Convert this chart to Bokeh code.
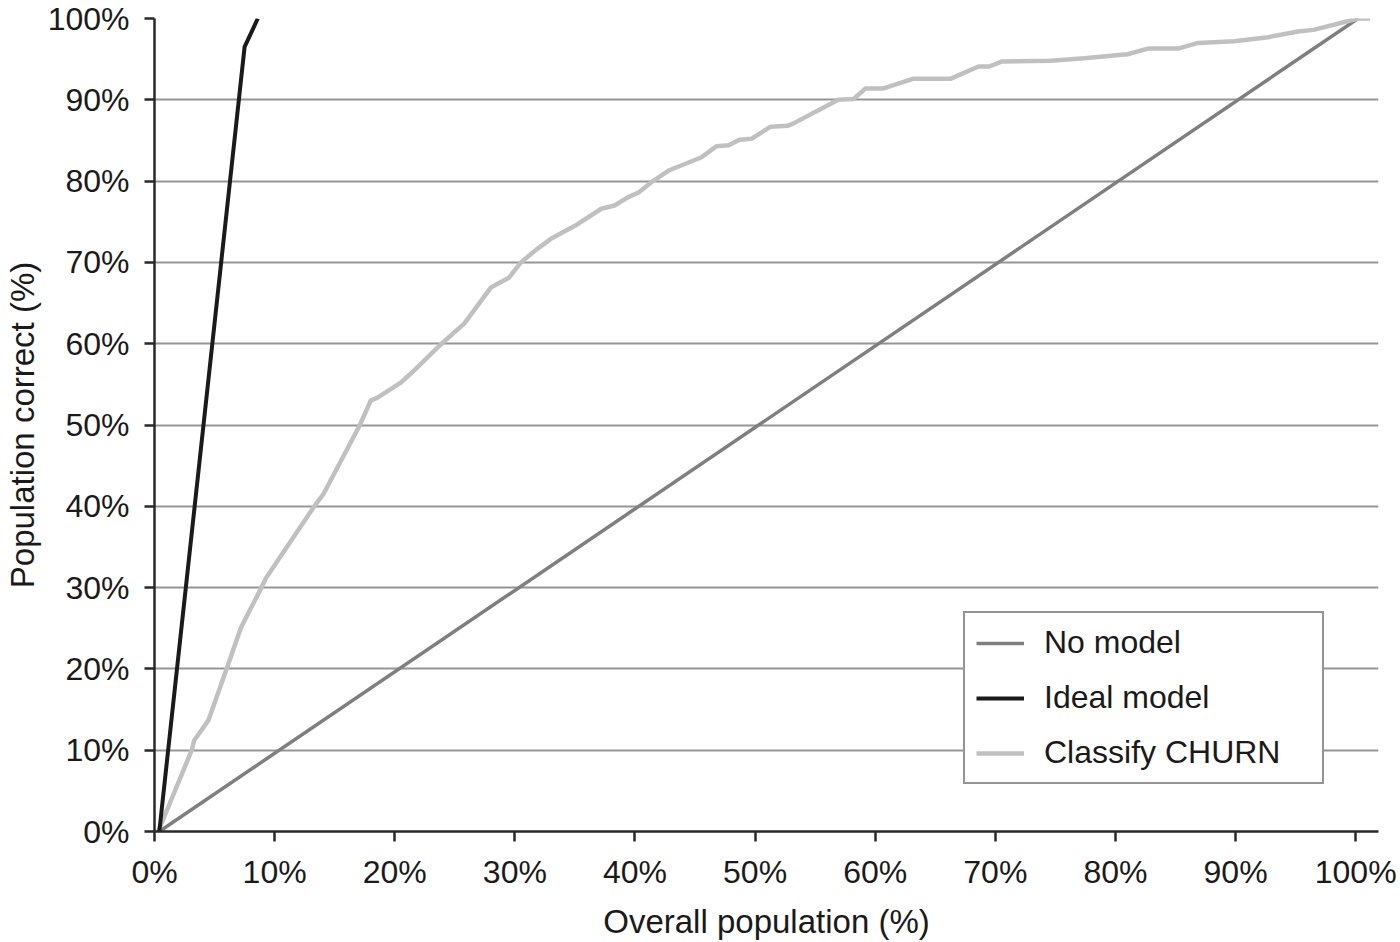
from bokeh.plotting import figure
from bokeh.models import (Legend, LegendItem, FixedTicker, PrintfTickFormatter, Range1d)
from bokeh.embed import file_html
from bokeh.resources import INLINE

# ---- data (percent) ----
nomodel_x = [0.4, 100.2]
nomodel_y = [0, 100]

ideal_x = [0.4, 7.5, 8.6]
ideal_y = [0, 96.5, 100]

churn_x = [0.3, 3.1, 3.3, 4.5, 6.0, 7.2, 8.9, 9.3, 13.3, 14.1, 16.1, 17.1, 18.0, 18.6,
           20.5, 21.6, 23.9, 25.8, 28.0, 29.5, 30.5, 31.9, 33.0, 35.0, 37.2, 38.3,
           39.4, 40.3, 41.5, 42.8, 45.5, 46.8, 47.8, 48.7, 49.7, 51.3, 52.7, 53.2,
           56.3, 56.9, 58.2, 59.2, 60.7, 63.2, 66.3, 68.6, 69.5, 70.5, 74.6, 77.4,
           81.0, 82.7, 85.2, 86.9, 89.9, 92.7, 95.2, 96.5, 100.2, 101.2]
churn_y = [0, 10.0, 11.2, 13.7, 20.0, 25.1, 30.0, 31.2, 40.0, 41.6, 47.2, 50.0, 53.0, 53.4,
           55.2, 56.7, 60.0, 62.5, 66.9, 68.1, 70.0, 71.7, 72.9, 74.5, 76.6, 77.0,
           78.0, 78.6, 80.0, 81.3, 82.9, 84.3, 84.4, 85.1, 85.2, 86.7, 86.8, 87.1,
           89.5, 90.0, 90.1, 91.4, 91.4, 92.6, 92.6, 94.1, 94.1, 94.7, 94.8, 95.1,
           95.6, 96.3, 96.3, 97.0, 97.2, 97.7, 98.4, 98.6, 100.0, 100.0]

ticks = list(range(0, 101, 10))
labels = ["No model", "Ideal model", "Classify CHURN"]

FONT = "Liberation Sans"
TXT = "#1a1a1a"

p = figure(width=1400, height=942, output_backend="svg", toolbar_location=None,
           x_range=Range1d(0, 101.9), y_range=Range1d(0, 100),
           min_border_left=153, min_border_right=22, min_border_top=18,
           min_border_bottom=111)
p.outline_line_color = None
p.background_fill_color = "white"
p.border_fill_color = "white"

for ax in (p.xaxis[0], p.yaxis[0]):
    ax.ticker = FixedTicker(ticks=ticks)
    ax.formatter = PrintfTickFormatter(format="%d%%")
    ax.major_label_text_font = FONT
    ax.major_label_text_font_size = "32px"
    ax.major_label_text_color = TXT
    ax.axis_label_text_font = FONT
    ax.axis_label_text_font_size = "33px"
    ax.axis_label_text_font_style = "normal"
    ax.axis_label_text_color = TXT
    ax.axis_line_color = "#2a2a2a"
    ax.axis_line_width = 2.5
    ax.major_tick_line_color = "#2a2a2a"
    ax.major_tick_line_width = 2.5
    ax.major_tick_out = 10
    ax.major_tick_in = 0
    ax.minor_tick_line_color = None

p.xaxis.axis_label = "Overall population (%)"
p.yaxis.axis_label = "Population correct (%)"
p.xaxis.major_label_standoff = 12
p.yaxis.major_label_standoff = 15
p.xaxis.axis_label_standoff = 10
p.yaxis.axis_label_standoff = 4

p.xgrid.grid_line_color = None
p.ygrid.ticker = FixedTicker(ticks=ticks)
p.ygrid.grid_line_color = "#959595"
p.ygrid.grid_line_width = 2

r_no = p.line(nomodel_x, nomodel_y, line_color="#7f7f7f", line_width=3.5)
r_ch = p.line(churn_x, churn_y, line_color="#c0c0c0", line_width=4.5)
r_id = p.line(ideal_x, ideal_y, line_color="#1a1a1a", line_width=4)

legend = Legend(items=[LegendItem(label=labels[0], renderers=[r_no]),
                       LegendItem(label=labels[1], renderers=[r_id]),
                       LegendItem(label=labels[2], renderers=[r_ch])],
                location=(809, 47))
legend.label_text_font = FONT
legend.label_text_font_size = "32px"
legend.label_text_color = TXT
legend.glyph_width = 48
legend.glyph_height = 36
legend.label_height = 36
legend.label_width = 267
legend.label_standoff = 20
legend.spacing = 18
legend.padding = 11
legend.border_line_color = "#2a2a2a"
legend.border_line_width = 2
legend.background_fill_color = "white"
legend.background_fill_alpha = 1
p.add_layout(legend, "center")

open("out.html", "w").write(file_html(p, INLINE))
